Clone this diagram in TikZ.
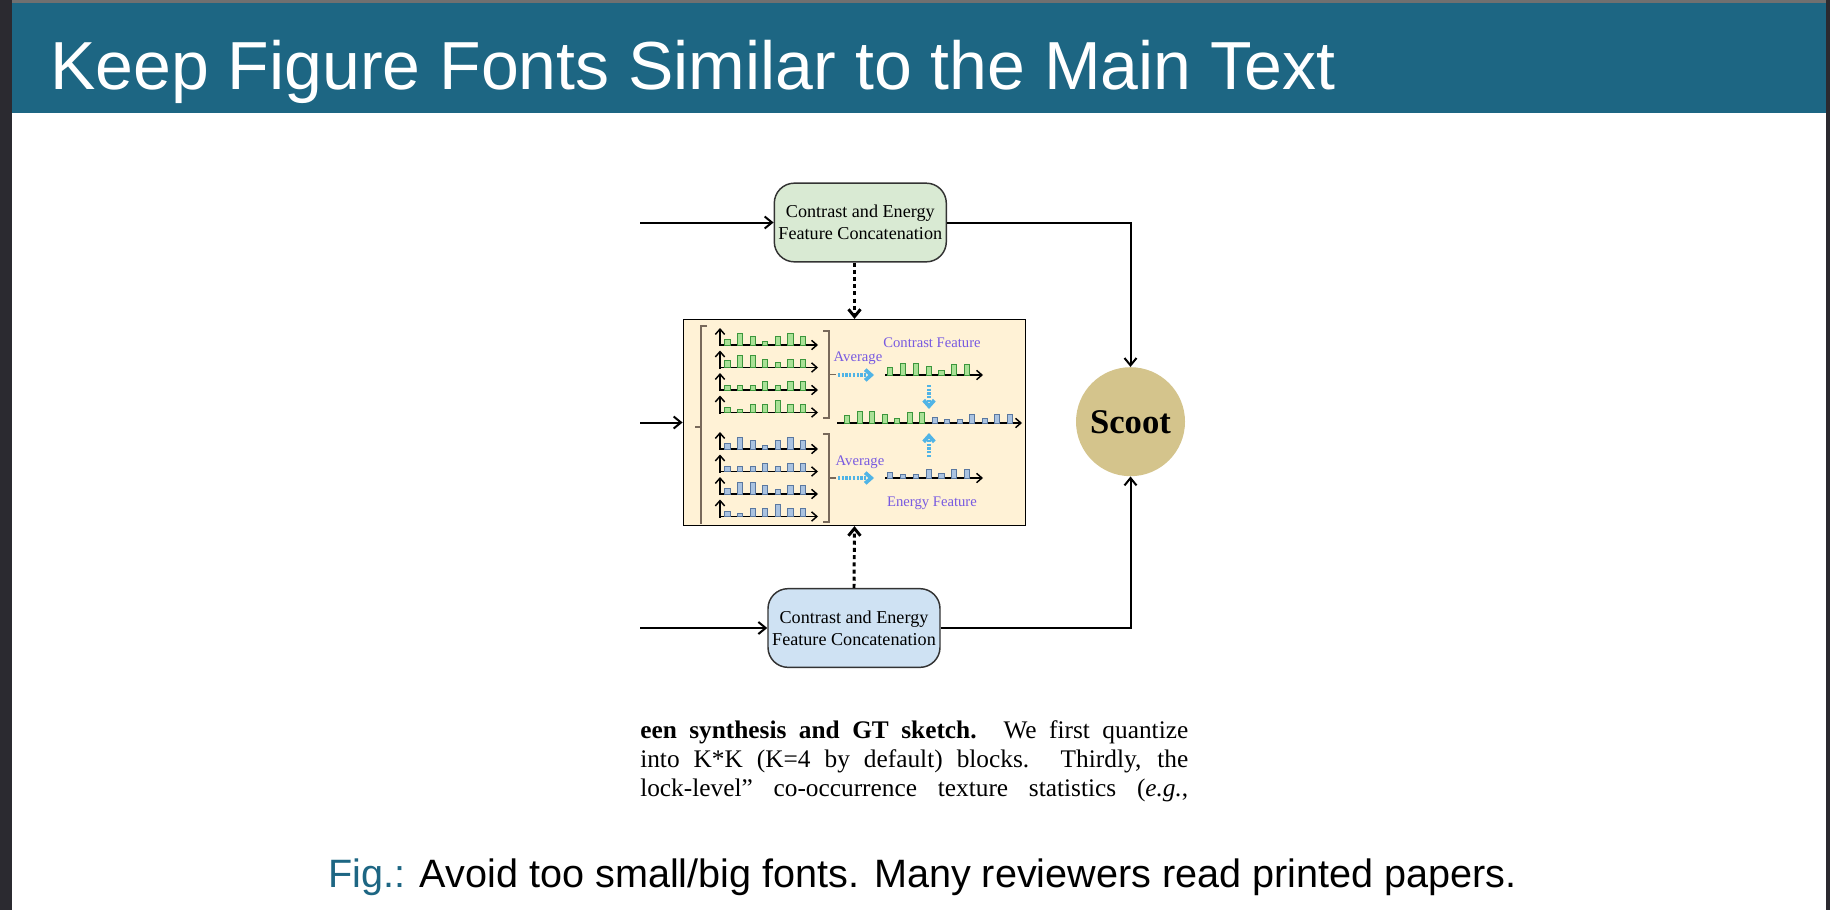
\documentclass[tikz,border=0pt]{standalone}
\usepackage{fontspec}
\setmainfont{Liberation Serif}
\setsansfont{Liberation Sans}
\usepackage{xcolor}
\usepackage{tikz}
\usetikzlibrary{arrows.meta}
\usetikzlibrary{calc}

\definecolor{slideblue}{RGB}{29,102,131}
\definecolor{framedark}{RGB}{43,42,48}
\definecolor{topgray}{RGB}{112,112,112}
\definecolor{boxgreen}{RGB}{217,234,211}
\definecolor{boxblue}{RGB}{207,226,243}
\definecolor{panelcream}{RGB}{255,242,214}
\definecolor{scootgold}{RGB}{212,196,140}
\definecolor{labelpurple}{RGB}{120,90,225}
\definecolor{arrowcyan}{RGB}{80,180,230}
\definecolor{bargreen}{RGB}{170,225,150}
\definecolor{bargreendark}{RGB}{60,150,60}
\definecolor{barblue}{RGB}{170,195,225}
\definecolor{barbluedark}{RGB}{90,120,160}
\definecolor{bracketbrown}{RGB}{120,105,90}

\tikzset{
  concatbox/.style={draw=black!80,line width=1.1pt,rounded corners=15pt,minimum width=129pt,minimum height=59pt,align=center,inner sep=0pt,font=\fontsize{13.6}{16.5}\selectfont},
  mainarrow/.style={line width=1.5pt,-{Straight Barb[length=5.5pt,width=9pt]}},
  dasharrow/.style={line width=2.2pt,dash pattern=on 3pt off 2.4pt,-{Straight Barb[length=5.5pt,width=9pt]}},
  axisarrow/.style={line width=1.1pt,-{Straight Barb[length=4pt,width=7pt]}},
  avgarrow/.style={draw=arrowcyan,line width=2.8pt,dash pattern=on 1.6pt off 1.2pt,-{Straight Barb[length=4.5pt,width=8pt]}},
  purplelabel/.style={text=labelpurple,font=\fontsize{11}{12}\selectfont,inner sep=0pt},
  gbar/.style={fill=bargreen,draw=bargreendark,line width=0.6pt},
  bbar/.style={fill=barblue,draw=barbluedark,line width=0.6pt},
  brack/.style={draw=bracketbrown,line width=0.8pt},
  papertext/.style={anchor=base west,inner sep=0pt,font=\fontsize{19}{22}\selectfont}
}

% one small histogram: x, y, bar style, heights
\newcommand{\histrow}[4]{%
  \draw[axisarrow] (#1,#2+1) -- ++(0,-18);
  \draw[axisarrow] (#1,#2) -- ++(98,0);
  \foreach \h [count=\k from 0] in {#4}
    \filldraw[#3] ({#1+4.8+12.6*\k},#2) rectangle ++(5.2,-1.2*\h);
}

\begin{document}
\begin{tikzpicture}[x=0.75pt,y=-0.75pt]
  \useasboundingbox (0,0) rectangle (1830,910);
  % slide frame
  \fill[white] (0,0) rectangle (1830,910);
  \fill[framedark] (0,0) rectangle (12,910);
  \fill[framedark] (1826,0) rectangle (1830,910);
  \fill[topgray] (12,0) rectangle (1826,3);
  \fill[slideblue] (12,3) rectangle (1826,113);
  \node[anchor=base west,inner sep=0pt,text=white,font=\sffamily\fontsize{51}{60}\selectfont] (title) at (50,89) {Keep Figure Fonts Similar to the Main Text};

  % boxes
  \node[concatbox,fill=boxgreen] (topbox) at (860.3,222.5) {Contrast and Energy\\Feature Concatenation};
  \node[concatbox,fill=boxblue] (botbox) at (854,628) {Contrast and Energy\\Feature Concatenation};
  \node[draw,fill=panelcream,line width=0.9pt,minimum width=257pt,minimum height=154.5pt,inner sep=0pt] (featbox) at (854.5,422.5) {};
  \node[circle,fill=scootgold,minimum size=81.75pt,inner sep=0pt,font=\bfseries\fontsize{26}{30}\selectfont] (scoot) at (1130.5,421.7) {Scoot};

  % inputs and outputs
  \coordinate (inA) at (640,222.5);
  \coordinate (inB) at (640,422.5);
  \coordinate (inC) at (640,628);
  \draw[mainarrow] (inA) -- (topbox.west);
  \draw[mainarrow] (inB) -- (featbox.west);
  \draw[mainarrow] (inC) -- (botbox.west);
  \draw[mainarrow] (topbox.east) -| (scoot.north);
  \draw[mainarrow] (botbox.east) -| (scoot.south);
  \draw[dasharrow] (topbox.south -| featbox.north) -- (featbox.north);
  \draw[dasharrow] (botbox.north) -- (featbox.south);

  % brackets
  \draw[brack] (707,326) -- (701,326) -- (701,524);
  \draw[brack] (701,427) -- (695,427);
  \draw[brack] (823,331) -- (829,331) -- (829,418) -- (823,418);
  \draw[brack] (829,374.5) -- (836,374.5);
  \draw[brack] (823,434) -- (829,434) -- (829,522) -- (823,522);
  \draw[brack] (829,478) -- (836,478);

  % block histograms
  \histrow{720}{345}{gbar}{5,10,7,3,7,10,7}
  \histrow{720}{367.5}{gbar}{6,10,10,7,4,7,7}
  \histrow{720}{390}{gbar}{4,4,4,7,4,7,7}
  \histrow{720}{412.5}{gbar}{4,3,7,7,10,7,7}
  \histrow{720}{449}{bbar}{5,10,7,3,7,10,7}
  \histrow{720}{471.5}{bbar}{4,4,4,7,4,7,7}
  \histrow{720}{494}{bbar}{5,10,10,7,4,7,7}
  \histrow{720}{516.5}{bbar}{4,3,7,7,10,7,7}

  % averaged features
  \node[purplelabel] (contlabel) at (932,343) {Contrast Feature};
  \node[purplelabel] (avgtop) at (858,358) {Average};
  \node[purplelabel] (avgbot) at (860,462) {Average};
  \node[purplelabel] (enerlabel) at (932,503) {Energy Feature};
  \draw[avgarrow] (838,375) -- (874,375);
  \draw[avgarrow] (838,478) -- (874,478);
  \draw[avgarrow] (929,385) -- (929,409);
  \draw[avgarrow] (929,457) -- (929,433);
  \draw[axisarrow] (885,375) -- (983,375);
  \foreach \h [count=\k from 0] in {6,10,10,7,4,9,9}
    \filldraw[gbar] ({887.5+12.8*\k},375) rectangle ++(5.2,-1.2*\h);
  \draw[axisarrow] (885,478) -- (983,478);
  \foreach \h [count=\k from 0] in {5,3,3,7,4,7,7}
    \filldraw[bbar] ({887.5+12.8*\k},478) rectangle ++(5.2,-1.2*\h);
  \draw[axisarrow] (837,423) -- (1022,423);
  \foreach \s/\h [count=\k from 0] in {gbar/6,gbar/10,gbar/10,gbar/7,gbar/4,gbar/9,gbar/9,bbar/5,bbar/3,bbar/3,bbar/7,bbar/4,bbar/7,bbar/7}
    \filldraw[\s] ({844.4+12.5*\k},423) rectangle ++(5.2,-1.2*\h);

  % paper excerpt
  \node[papertext] (lineA) at (640,738) {\makebox[411pt][s]{\textbf{een synthesis and GT sketch.} We first quantize}};
  \node[papertext] (lineB) at (640,767) {\makebox[411pt][s]{into K*K (K=4 by default) blocks. Thirdly, the}};
  \node[papertext] (lineC) at (640,796) {\makebox[411pt][s]{lock-level'' co-occurrence texture statistics (\textit{e.g.},}};

  % caption
  \node[anchor=base west,inner sep=0pt,font=\sffamily\fontsize{29.7}{34}\selectfont] (caption) at (328,887) {\textcolor{slideblue}{Fig.:} Avoid too small/big fonts. Many reviewers read printed papers.};
\end{tikzpicture}
\end{document}
